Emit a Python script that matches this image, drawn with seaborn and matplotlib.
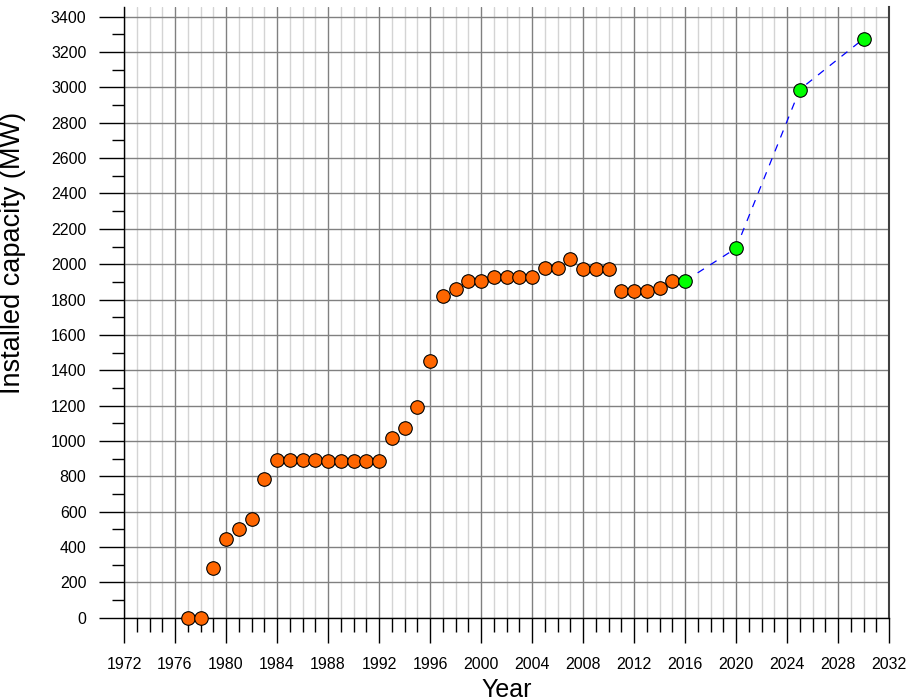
import matplotlib
matplotlib.use("Agg")
import matplotlib.pyplot as plt
import seaborn as sns
import pandas as pd
import numpy as np
from matplotlib.ticker import MultipleLocator

# Historical installed capacity
hist_years = [1977, 1978, 1979, 1980, 1981, 1982, 1983, 1984, 1985, 1986, 1987,
              1988, 1989, 1990, 1991, 1992, 1993, 1994, 1995, 1996, 1997, 1998,
              1999, 2000, 2001, 2002, 2003, 2004, 2005, 2006, 2007, 2008, 2009,
              2010, 2011, 2012, 2013, 2014, 2015]
hist_mw = [0, 0, 280, 445, 502, 558, 785, 892, 892, 892, 892,
           887, 887, 887, 887, 887, 1018, 1075, 1194, 1450, 1820, 1861,
           1907, 1907, 1929, 1929, 1929, 1929, 1977, 1977, 2028, 1971, 1971,
           1971, 1847, 1847, 1847, 1867, 1907]

# Projected capacity
proj_years = [2016, 2020, 2025, 2030]
proj_mw = [1905, 2090, 2988, 3275]

x_ticks = list(range(1972, 2033, 4))
y_ticks = list(range(0, 3401, 200))

hist = pd.DataFrame({"Year": hist_years, "MW": hist_mw})
proj = pd.DataFrame({"Year": proj_years, "MW": proj_mw})

sns.set_style("white")
plt.rcParams["font.family"] = ["Liberation Sans", "DejaVu Sans"]

fig = plt.figure(figsize=(9.11, 7.0), dpi=100)
ax = fig.add_axes([124 / 911, 1 - 617.7 / 700, (889 - 124) / 911, (617.7 - 7) / 700])

sns.lineplot(data=proj, x="Year", y="MW", ax=ax, color="#0000ff", lw=0.9,
             dashes=False, linestyle=(0, (6, 6)), zorder=3, clip_on=False)
sns.scatterplot(data=hist, x="Year", y="MW", ax=ax, color="#ff6600", s=95,
                edgecolor="black", linewidth=0.8, zorder=4, clip_on=False)
sns.scatterplot(data=proj, x="Year", y="MW", ax=ax, color="#00ff00", s=95,
                edgecolor="black", linewidth=0.8, zorder=5, clip_on=False)

ax.set_xlim(1972, 2032)
ax.set_ylim(0, 3455)
ax.set_xticks(x_ticks)
ax.set_yticks(y_ticks)
ax.xaxis.set_minor_locator(MultipleLocator(1))
ax.yaxis.set_minor_locator(MultipleLocator(100))

ax.grid(which="minor", axis="x", color="#d4d4d4", lw=1.0)
ax.grid(which="major", axis="x", color="#808080", lw=1.0)
ax.grid(which="major", axis="y", color="#808080", lw=1.0)
ax.set_axisbelow(True)

ax.tick_params(axis="both", which="both", bottom=True, left=True, top=False, right=False)
ax.tick_params(axis="both", which="major", direction="out", length=18, width=1.0,
               color="black", labelsize=11.5, labelcolor="black")
ax.tick_params(axis="y", which="minor", direction="out", length=9, width=1.0, color="black")
ax.tick_params(axis="x", which="minor", direction="out", length=10, width=1.0, color="black")
ax.tick_params(axis="x", which="major", pad=10)
ax.tick_params(axis="y", which="major", pad=9)

for side in ["left", "bottom", "right"]:
    ax.spines[side].set_visible(True)
    ax.spines[side].set_color("black")
    ax.spines[side].set_linewidth(1.0)
ax.spines["right"].set_color("#404040")
ax.spines["right"].set_linewidth(1.5)
ax.spines["top"].set_visible(False)

ax.set_xlabel("Year", fontsize=18, color="black")
ax.set_ylabel("Installed capacity (MW)", fontsize=19.5, color="black")
ax.xaxis.set_label_coords(0.5, -0.098)
ax.yaxis.set_label_coords(-0.128, 0.597)

fig.savefig("out.png", dpi=100)
